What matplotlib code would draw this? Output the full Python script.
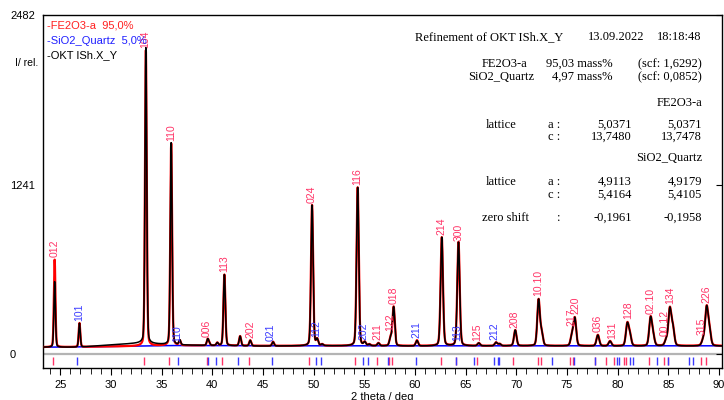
import numpy as np
import matplotlib.pyplot as plt

plt.rcParams['font.family'] = ['Liberation Sans', 'DejaVu Sans']

# Fe2O3 peaks: 2theta (deg), calc / obs height above background
fe_pos = [24.45, 33.45, 35.95, 39.55, 41.2, 43.75, 49.85, 54.35, 56.4, 57.6, 57.9,
          62.65, 64.3, 66.3, 69.9, 72.2, 72.5, 75.5, 75.78, 78.05, 79.25, 80.95, 81.2,
          83.25, 83.5, 84.8, 85.15, 85.45, 88.45, 88.78, 89.05]
fe_calc = [640, 2165, 1480, 45, 520, 40, 1030, 1160, 20, 60, 285,
           795, 750, 20, 115, 335, 95, 80, 200, 80, 35, 155, 80,
           200, 70, 40, 265, 130, 40, 270, 110]
fe_obs = [480, 2165, 1480, 45, 520, 40, 1030, 1160, 20, 60, 285,
          795, 750, 20, 115, 335, 95, 80, 200, 80, 35, 155, 80,
          200, 70, 40, 265, 130, 40, 270, 110]

# SiO2 quartz peaks
qz_pos = [26.9, 36.8, 39.7, 40.5, 42.75, 46.0, 50.35, 50.85, 55.05, 55.5, 60.2,
          64.2, 68.0, 68.35]
qz_calc = [175, 35, 15, 20, 70, 30, 45, 10, 25, 10, 40, 15, 25, 15]

# background (blue) and observed background with the broad hump
bg_deg = [23.3, 27, 29, 33, 36, 40, 45, 50, 60, 70, 80, 90.3]
bg_calc = [50, 52, 54, 58, 62, 62, 60, 60, 60, 60, 60, 60]
bg_obs = [50, 50, 62, 80, 66, 62, 58, 60, 58, 60, 58, 58]

# reflection tick positions
fe_ticks = [24.29, 33.23, 35.72, 39.47, 40.99, 43.62, 49.54, 54.08, 56.24, 57.4, 57.7,
            62.53, 64.07, 66.1, 69.66, 72.12, 72.45, 75.31, 75.55, 77.81, 78.86, 79.69,
            80.67, 80.84, 83.07, 84.62, 84.94, 88.23, 88.73]
qz_ticks = [26.70, 36.66, 39.62, 40.34, 42.57, 45.86, 50.2, 50.69, 54.86, 55.36, 57.3,
            60.06, 64.07, 65.78, 67.85, 68.18, 68.34, 73.54, 75.74, 77.8, 79.91, 80.11,
            81.23, 81.49, 83.9, 84.97, 87.08, 87.41]

# hkl labels
fe_labels = ['012', '104', '110', '006', '113', '202', '024', '116', '211', '122', '018',
             '214', '300', '125', '208', '10.10', '217', '220', '036', '131', '128',
             '02.10', '00.12', '134', '315', '226']
fe_label_pos = [24.45, 33.42, 35.95, 39.45, 41.2, 43.75, 49.8, 54.35, 56.3, 57.55, 57.9,
                62.65, 64.3, 66.1, 69.8, 72.2, 75.45, 75.8, 78.05, 79.45, 81.0,
                83.25, 84.65, 85.2, 88.3, 88.8]
qz_labels = ['101', '110', '021', '112', '202', '211', '113', '212']
qz_label_pos = [26.85, 36.5, 45.8, 50.3, 54.9, 60.1, 64.15, 67.85]

RED = '#ff0000'
BLUE = '#0000ff'
LRED = '#ff3366'
LBLUE = '#3a3aff'

x = np.arange(23.3, 90.26, 0.01)


def peaks(pos, heights):
    y = np.zeros_like(x)
    for p, h in zip(pos, heights):
        w = 0.18 + 0.0025 * (p - 24)
        g = np.exp(-4 * np.log(2) * ((x - p) / w) ** 2)
        l = 1 / (1 + 4 * ((x - p) / w) ** 2)
        y += h * (0.8 * g + 0.2 * l)
    return y


back = np.interp(x, bg_deg, bg_calc)
fe_prof = peaks(fe_pos, fe_calc)
qz_prof = peaks(qz_pos, qz_calc)
calc = back + fe_prof + qz_prof
obs = np.interp(x, bg_deg, bg_obs) + peaks(fe_pos, fe_obs) + qz_prof

fig = plt.figure(figsize=(7.24, 4.0), dpi=100)
ax = fig.add_axes([43 / 724, 1 - 368 / 400, 678.5 / 724, 353 / 400])

ax.axhline(0, color='#b4b4b4', lw=1.6, zorder=1)
ax.plot(x, back, color=BLUE, lw=1.1, zorder=2)
ax.plot(x, calc, color=RED, lw=1.6, zorder=3)
ax.plot(x, obs, color='black', lw=1.1, zorder=4)

ax.vlines(fe_ticks, -80, -22, color=LRED, lw=1.0)
ax.vlines(qz_ticks, -80, -22, color=LBLUE, lw=1.0)


def label_y(px, prof):
    m = (x > px - 0.12) & (x < px + 0.12)
    return (back + prof)[m].max() + 18


for s, p in zip(fe_labels, fe_label_pos):
    ax.text(p, label_y(p, fe_prof), s, rotation=90, ha='center', va='bottom',
            fontsize=7.5, color=LRED, zorder=5)
for s, p in zip(qz_labels, qz_label_pos):
    ax.text(p, label_y(p, qz_prof), s, rotation=90, ha='center', va='bottom',
            fontsize=7.5, color=LBLUE, zorder=5)

ax.set_xlim(23.3, 90.25)
ax.set_ylim(-102.5, 2482)
ax.set_xticks(np.arange(25, 91, 5))
ax.set_xticks(np.arange(24, 91, 1), minor=True)
ax.tick_params(axis='x', which='major', direction='out', length=5, labelsize=8, pad=4)
ax.tick_params(axis='x', which='minor', direction='out', length=4)
ax.set_yticks([0, 1241, 2482])
ax.set_yticklabels(['0', '1241', '2482'])
ax.tick_params(axis='y', which='major', left=False, right=True, labelleft=True,
               direction='in', length=4, labelsize=8, pad=23.8)
for lab in ax.get_yticklabels():
    lab.set_horizontalalignment('left')
for sp in ax.spines.values():
    sp.set_linewidth(1.0)

fig.text(382 / 724, 1 - 397 / 400, '2 theta / deg', ha='center', va='center', fontsize=8)
fig.text(15 / 724, 1 - 63 / 400, 'I/ rel.', ha='left', va='center', fontsize=7.5)

# legend at top left
fig.text(47 / 724, 1 - 25 / 400, '-FE2O3-a  95,0%', color='#ff2020', fontsize=8, va='center')
fig.text(47 / 724, 1 - 40.5 / 400, '-SiO2_Quartz  5,0%', color='#2020ff', fontsize=8, va='center')
fig.text(47 / 724, 1 - 55 / 400, '-OKT ISh.X_Y', color='black', fontsize=8, va='center')

# refinement text block
serif = ['Liberation Serif', 'DejaVu Serif']


def t(px, py, s, ha='left'):
    fig.text(px / 724, 1 - py / 400, s, ha=ha, va='center', fontsize=9, family=serif)


t(415, 37, 'Refinement of OKT ISh.X_Y')
t(588, 37, '13.09.2022')
t(657, 37, '18:18:48')
t(482, 64, 'FE2O3-a')
t(613, 64, '95,03 mass%', 'right')
t(702, 64, '(scf: 1,6292)', 'right')
t(468, 77, 'SiO2_Quartz')
t(613, 77, '4,97 mass%', 'right')
t(702, 77, '(scf: 0,0852)', 'right')
t(702, 103, 'FE2O3-a', 'right')
t(486, 125, 'lattice')
t(548, 125, 'a :')
t(632, 125, '5,0371', 'right')
t(702, 125, '5,0371', 'right')
t(548, 137, 'c :')
t(632, 137, '13,7480', 'right')
t(702, 137, '13,7478', 'right')
t(702, 158, 'SiO2_Quartz', 'right')
t(486, 182, 'lattice')
t(548, 182, 'a :')
t(632, 182, '4,9113', 'right')
t(702, 182, '4,9179', 'right')
t(548, 195, 'c :')
t(632, 195, '5,4164', 'right')
t(702, 195, '5,4105', 'right')
t(482, 218, 'zero shift')
t(557, 218, ':')
t(632, 218, '-0,1961', 'right')
t(702, 218, '-0,1958', 'right')

fig.savefig('out.png', dpi=100)
